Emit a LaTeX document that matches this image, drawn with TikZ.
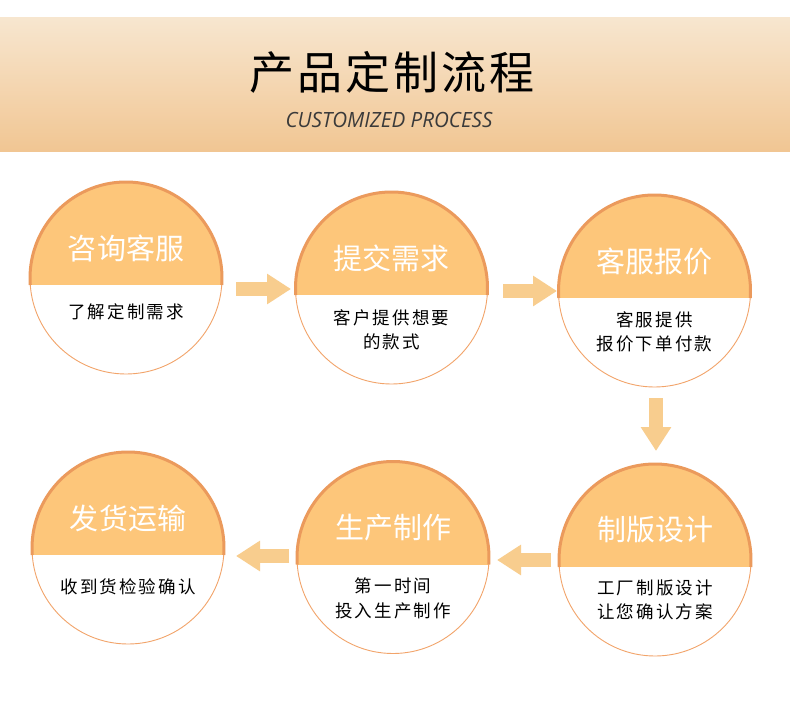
\documentclass[tikz,border=0pt]{standalone}
\usepackage{fontspec}
\setmainfont{Noto Sans CJK SC}
\newfontfamily\cjk{Noto Sans CJK SC}
\newfontfamily\cjknote[LetterSpace=12]{Noto Sans CJK SC}
\newfontfamily\cjkhead[LetterSpace=7]{Noto Sans CJK SC}
\newfontfamily\subfont[FakeStretch=0.98]{Open Sans}
\usetikzlibrary{arrows.meta,calc}
\definecolor{bandtop}{HTML}{F7E6CF}
\definecolor{bandbot}{HTML}{F1C693}
\definecolor{ctop}{HTML}{FDC67A}
\definecolor{rimhi}{HTML}{EB9A5C}
\definecolor{rimlo}{HTML}{F2A46A}
\definecolor{arrowc}{HTML}{F8CD8E}
\definecolor{subgray}{HTML}{3A3A3A}
\tikzset{
  stepcircle/.style={circle, minimum size=192bp, inner sep=0pt, fill=white,
    path picture={\fill[ctop] ([yshift=10bp]path picture bounding box.north west) rectangle ([yshift=-7bp]path picture bounding box.east);}},
  rimlow/.style={draw=rimlo, line width=0.9bp},
  rimhigh/.style={draw=rimhi, line width=3bp},
  steptitle/.style={text=white, font=\cjk\fontsize{29bp}{32bp}\selectfont, inner sep=0pt},
  stepnote/.style={text=black, font=\cjknote\fontsize{17.5bp}{24.5bp}\selectfont, align=center, inner sep=0pt},
  fatarrow/.style={draw=arrowc, line width=14.5bp, -{Triangle[width=29bp,length=24bp]}},
}
\newcommand{\stepdisk}[5]{%
  % #1 name, #2 position, #3 title, #4 note, #5 note y offset
  \node[stepcircle] (#1) at (#2) {};
  \draw[rimlow] (#1.center) circle[radius=96];
  \draw[rimhigh] ([shift={(4.2:96)}]#1.center) arc[start angle=4.2, end angle=-184.2, radius=96];
  \node[steptitle] (#1t) at ([yshift=30bp]#1.center) {#3};
  \node[stepnote] (#1n) at ([yshift=-#5bp]#1.center) {#4};
}
\begin{document}
\begin{tikzpicture}[x=1bp,y=-1bp]
\useasboundingbox (0,0) rectangle (790,727);
\fill[white] (0,0) rectangle (790,727);
% header band
\shade[top color=bandtop, bottom color=bandbot] (0,18) rectangle (790,151);
\node[font=\cjkhead\fontsize{45bp}{50bp}\selectfont, inner sep=0pt] (title) at (392,72) {产品定制流程};
\node[font=\subfont\itshape\fontsize{21bp}{24bp}\selectfont, text=subgray, inner sep=0pt] (subtitle) at (389,119.5) {CUSTOMIZED PROCESS};
% steps
\stepdisk{c1}{126,278}{咨询客服}{了解定制需求}{34}
\stepdisk{c2}{391.5,288}{提交需求}{客户提供想要\\的款式}{42}
\stepdisk{c3}{654.5,291}{客服报价}{客服提供\\报价下单付款}{41}
\stepdisk{c4}{655,560}{制版设计}{工厂制版设计\\让您确认方案}{40}
\stepdisk{c5}{393,557.5}{生产制作}{第一时间\\投入生产制作}{41}
\stepdisk{c6}{128,548}{发货运输}{收到货检验确认}{39}
% arrows
\coordinate (a1s) at (236,289); \coordinate (a1e) at (291,289);
\coordinate (a2s) at (503,291); \coordinate (a2e) at (557,291);
\coordinate (a3s) at (656,398); \coordinate (a3e) at (656,451);
\coordinate (a4s) at (551,560); \coordinate (a4e) at (497,560);
\coordinate (a5s) at (289,556); \coordinate (a5e) at (236,556);
\draw[fatarrow] (a1s) -- (a1e);
\draw[fatarrow] (a2s) -- (a2e);
\draw[fatarrow] (a3s) -- (a3e);
\draw[fatarrow] (a4s) -- (a4e);
\draw[fatarrow] (a5s) -- (a5e);
\end{tikzpicture}
\end{document}
